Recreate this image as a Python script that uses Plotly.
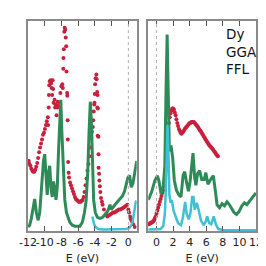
import plotly.graph_objects as go

# ---------------- data (energies in eV, intensities in arbitrary units) ----------------
# Left panel: occupied states
left_green_E = [-12.0, -11.8, -11.6, -11.4, -11.2, -11.0, -10.8, -10.6, -10.45, -10.3, -10.15, -10.0,
                -9.85, -9.7, -9.55, -9.4, -9.25, -9.1, -8.95, -8.8, -8.65, -8.5, -8.35, -8.2, -8.08,
                -7.95, -7.8, -7.6, -7.4, -7.2, -7.0, -6.7, -6.4, -6.1, -5.8, -5.5, -5.25, -5.05, -4.85,
                -4.7, -4.55, -4.42, -4.3, -4.15, -3.95, -3.7, -3.4, -3.1, -2.8, -2.5, -2.3, -2.2, -2.05,
                -1.9, -1.6, -1.3, -1.0, -0.7, -0.45, -0.25, -0.05, 0.15, 0.35, 0.55, 0.75, 1.0]
left_green_I = [4, 6, 13, 24, 33, 19, 11, 19, 39, 57, 72, 79, 55, 37, 60, 67, 44, 35, 51, 44, 32, 45,
                82, 122, 135, 102, 62, 32, 19, 13, 9, 6, 5, 5, 5, 9, 19, 31, 62, 102, 133, 112, 59, 32,
                19, 14, 13, 14, 17, 20, 24, 27, 22, 24, 27, 30, 33, 36, 41, 47, 55, 57, 45, 49, 59, 72]

left_cyan_E = [-4.3, -4.1, -3.9, -3.6, -3.0, -2.0, -1.0, -0.3, 0.1, 0.3, 0.5, 0.65, 0.8, 0.9, 1.0]
left_cyan_I = [15, 7, 4, 2, 1.5, 1.5, 1.5, 2, 3, 5, 9, 17, 27, 30, 31]

left_red_E = [-11.98, -11.91, -11.83, -11.71, -11.6, -11.48, -11.37, -11.25, -11.13, -11.02, -10.9,
              -10.79, -10.67, -10.56, -10.44, -10.32, -10.21, -10.09, -9.98, -9.86, -9.75, -9.63,
              -9.6, -9.52, -9.5, -9.46, -9.4, -9.29, -9.23, -9.17, -9.05, -9.11, -9.0, -8.94, -8.82,
              -8.76, -8.71, -8.59, -8.47, -8.45, -8.36, -8.24, -8.13, -8.01, -7.9, -7.84, -7.78,
              -7.76, -7.72, -7.66, -7.61, -7.55, -7.49, -7.43, -7.4, -7.32, -7.3, -7.26, -7.24, -7.2,
              -7.14, -7.09, -6.97, -6.86, -6.74, -6.62, -6.51, -6.39, -6.28, -6.16, -6.05, -5.93,
              -5.82, -5.7, -5.58, -5.47, -5.35, -5.24, -5.12, -5.0, -4.89, -4.77, -4.66, -4.51,
              -4.43, -4.35, -4.25, -4.2, -4.14, -4.08, -4.05, -4.02, -3.97, -3.91, -3.82, -3.79,
              -3.73, -3.68, -3.71, -3.65, -3.67, -3.58, -3.57, -3.56, -3.5, -3.47, -3.41, -3.35,
              -3.27, -3.16, -3.08, -2.92, -2.69, -2.52, -2.35, -2.17, -2.0, -1.83, -1.65, -1.48,
              -1.31, -1.13, -0.96, -0.79, -0.61, -0.44, -0.27, -0.12, 0.0, 0.08, 0.2, 0.31, 0.43,
              0.58, 0.77]
left_red_I = [72, 72, 69, 67, 64, 62, 61, 61, 63, 66, 70, 75, 81, 86, 90, 94, 99, 101, 105, 109, 113,
              117, 109, 127, 140, 150, 154, 155, 152, 147, 155, 140, 146, 132, 135, 127, 130, 119,
              127, 133, 129, 132, 142, 149, 151, 147, 167, 178, 187, 205, 209, 207, 199, 190, 164,
              142, 139, 114, 94, 71, 60, 55, 50, 47, 44, 41, 38, 35, 33, 32, 31, 30, 30, 30, 31,
              32, 35, 40, 47, 54, 62, 69, 77, 86, 96, 102, 107, 114, 123, 130, 132, 141, 151, 157,
              161, 156, 143, 140, 127, 126, 98, 97, 79, 65, 59, 52, 46, 40, 34, 30, 27, 22, 17,
              15, 16, 17, 18, 19, 19, 20, 21, 22, 22, 23, 24, 25, 26, 27, 22, 19, 15, 12, 10, 7, 4]

# Right panel: unoccupied states
right_green_E = [-1.0, -0.6, -0.2, 0.1, 0.3, 0.55, 0.8, 1.0, 1.15, 1.28, 1.4, 1.55, 1.75, 1.95, 2.15,
                 2.4, 2.7, 2.95, 3.2, 3.4, 3.6, 3.85, 4.05, 4.25, 4.4, 4.6, 4.75, 4.95, 5.2, 5.45,
                 5.75, 5.95, 6.2, 6.6, 6.85, 7.1, 7.3, 7.6, 7.9, 8.2, 8.5, 8.8, 9.1, 9.35, 9.65,
                 9.95, 10.3, 10.6, 10.9, 11.3, 11.7, 12.0]
right_green_I = [32, 40, 52, 57, 51, 38, 45, 67, 147, 202, 147, 82, 88, 75, 52, 42, 37, 35, 57, 61,
                 51, 41, 51, 72, 80, 55, 47, 59, 62, 53, 53, 60, 48, 54, 57, 41, 27, 24, 28, 26, 30,
                 27, 23, 19, 17, 20, 26, 29, 27, 32, 36, 39]

right_cyan_E = [-1.0, 0.0, 0.5, 0.8, 1.0, 1.1, 1.2, 1.33, 1.45, 1.55, 1.7, 1.85, 2.05, 2.3, 2.6,
                2.95, 3.2, 3.45, 3.65, 3.9, 4.1, 4.3, 4.45, 4.6, 4.85, 5.1, 5.35, 5.7, 5.95, 6.1,
                6.35, 6.6, 6.9, 7.15, 7.45, 8.0, 10.0, 12.0]
right_cyan_I = [1.5, 1.5, 2, 5, 17, 37, 77, 109, 77, 37, 29, 32, 21, 14, 8, 6, 15, 30, 17, 12, 19,
                35, 35, 22, 29, 21, 11, 6, 10, 15, 8, 7, 15, 7, 2, 1, 0.7, 0.7]

right_red_E = [-1.0, -0.9, -0.8, -0.7, -0.6, -0.5, -0.4, -0.3, -0.2, -0.1,
               0.0, 0.1, 0.2, 0.3, 0.4, 0.5, 0.6, 0.7, 0.8, 0.9,
               1.0, 1.1, 1.2, 1.3, 1.4, 1.5, 1.6, 1.7, 1.8, 1.9,
               2.0, 2.1, 2.2, 2.3, 2.4, 2.5, 2.6, 2.7, 2.8, 2.9,
               3.0, 3.1, 3.2, 3.3, 3.4, 3.5, 3.6, 3.7, 3.8, 3.9,
               4.0, 4.1, 4.2, 4.3, 4.4, 4.5, 4.6, 4.7, 4.8, 4.9,
               5.0, 5.1, 5.2, 5.3, 5.4, 5.5, 5.6, 5.7, 5.8, 5.9,
               6.0, 6.1, 6.2, 6.3, 6.4, 6.5, 6.6, 6.7, 6.8, 6.9,
               7.0, 7.1, 7.2, 7.3, 7.4]
right_red_I = [7, 7, 8, 8, 9, 9, 10, 11, 13, 15,
               18, 21, 24, 27, 30, 33, 36, 39, 42, 46,
               52, 62, 77, 92, 103, 111, 117, 121, 124, 126,
               126, 125, 122, 119, 115, 111, 108, 105, 103, 101,
               100, 101, 102, 103, 105, 106, 107, 108, 109, 110,
               111, 111, 112, 112, 112, 112, 111, 110, 109, 108,
               107, 105.5, 104, 103, 101.5, 100, 99, 97.5, 96, 94.5,
               93, 91.5, 90.5, 89, 88, 87, 86, 85, 84, 82.5,
               81.5, 80.5, 79, 78, 77]

left_ticks = [-12, -10, -8, -6, -4, -2, 0]
left_ticktext = ["-12", "-10", "-8", "-6", "-4", "-2", "0"]
right_ticks = [0, 2, 4, 6, 8, 10, 12]
right_ticktext = ["0", "2", "4", "6", "8", "10", "12"]
label_lines = ["Dy", "GGA", "FFL"]
x_title = "E (eV)"

# ---------------- styling ----------------
GREEN = "#2e8b57"
CYAN = "#3ec1d3"
RED = "#c8203c"
FRAME = "#8a8a8a"
FONT = "DejaVu Sans"

fig = go.Figure()

# left panel
fig.add_trace(go.Scatter(x=left_red_E, y=left_red_I, mode="markers",
                         marker=dict(color=RED, size=4), xaxis="x", yaxis="y", showlegend=False))
fig.add_trace(go.Scatter(x=left_green_E, y=left_green_I, mode="lines",
                         line=dict(color=GREEN, width=3), xaxis="x", yaxis="y", showlegend=False))
fig.add_trace(go.Scatter(x=left_cyan_E, y=left_cyan_I, mode="lines",
                         line=dict(color=CYAN, width=2.5), xaxis="x", yaxis="y", showlegend=False))

# right panel
fig.add_trace(go.Scatter(x=right_red_E, y=right_red_I, mode="markers",
                         marker=dict(color=RED, size=4), xaxis="x2", yaxis="y2", showlegend=False))
fig.add_trace(go.Scatter(x=right_green_E, y=right_green_I, mode="lines",
                         line=dict(color=GREEN, width=3), xaxis="x2", yaxis="y2", showlegend=False))
fig.add_trace(go.Scatter(x=right_cyan_E, y=right_cyan_I, mode="lines",
                         line=dict(color=CYAN, width=2.5), xaxis="x2", yaxis="y2", showlegend=False))

xcommon = dict(showline=True, linecolor=FRAME, linewidth=2, mirror="ticks", ticks="inside",
               ticklen=5, tickwidth=1, tickcolor="#555", showgrid=False, zeroline=False,
               tickangle=0,
               tickfont=dict(family=FONT, size=11, color="#222"),
               title=dict(text=x_title, font=dict(family=FONT, size=11, color="#222"), standoff=6))
ycommon = dict(showline=True, linecolor=FRAME, linewidth=2, mirror=True, ticks="",
               showticklabels=False, showgrid=False, zeroline=False, range=[0, 216])

fig.update_layout(
    width=266, height=266, autosize=False,
    margin=dict(l=14, r=15, t=11, b=39),
    paper_bgcolor="white", plot_bgcolor="white",
    xaxis=dict(domain=[0, 0.4768], range=[-12, 1], tickmode="array",
               tickvals=left_ticks, ticktext=left_ticktext, **xcommon),
    xaxis2=dict(domain=[0.5274, 1], range=[-1, 12], tickmode="array",
                tickvals=right_ticks, ticktext=right_ticktext, anchor="y2", **xcommon),
    yaxis=dict(anchor="x", **ycommon),
    yaxis2=dict(anchor="x2", **ycommon),
    shapes=[
        dict(type="line", xref="x", yref="y domain", x0=0, x1=0, y0=0, y1=1,
             line=dict(color="#b0b0b0", width=1, dash="dot")),
        dict(type="line", xref="x2", yref="y2 domain", x0=0, x1=0, y0=0, y1=1,
             line=dict(color="#b0b0b0", width=1, dash="dot")),
    ],
    annotations=[
        dict(text="<br>".join(label_lines), xref="paper", yref="paper", x=0.858, y=0.985,
             xanchor="left", yanchor="top", align="left", showarrow=False,
             font=dict(family=FONT, size=13.5, color="#111")),
    ],
)

fig.write_html("out.html")
